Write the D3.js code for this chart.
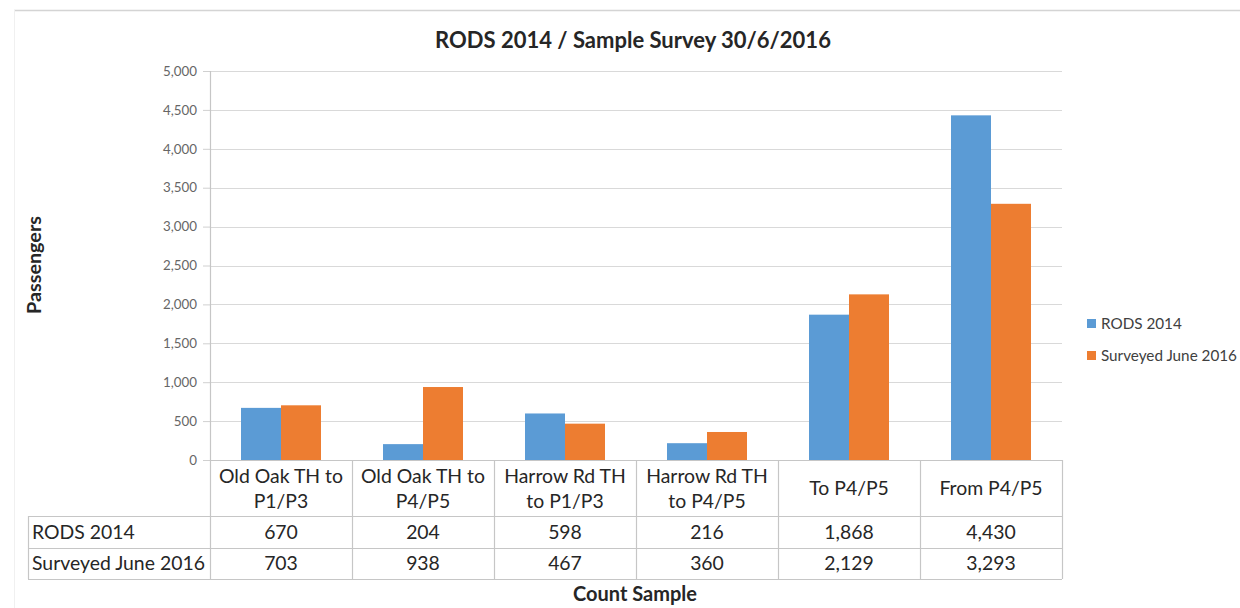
<!DOCTYPE html>
<html>
<head>
<meta charset="utf-8">
<script src="https://cdn.jsdelivr.net/npm/d3@7"></script>
<style>
  html, body { margin: 0; padding: 0; background: #fff; }
  svg { display: block; font-family: Lato, "Open Sans", sans-serif; }
</style>
</head>
<body>
<svg id="chart" width="1240" height="608"></svg>
<script>
// ---- data ----
const categories = [
  ["Old Oak TH to", "P1/P3"],
  ["Old Oak TH to", "P4/P5"],
  ["Harrow Rd TH", "to P1/P3"],
  ["Harrow Rd TH", "to P4/P5"],
  ["To P4/P5"],
  ["From P4/P5"]
];
const seriesNames = ["RODS 2014", "Surveyed June 2016"];
const rods2014 = [670, 204, 598, 216, 1868, 4430];
const surveyed2016 = [703, 938, 467, 360, 2129, 3293];
const yTicks = [0, 500, 1000, 1500, 2000, 2500, 3000, 3500, 4000, 4500, 5000];
const title = "RODS 2014 / Sample Survey 30/6/2016";
const yTitle = "Passengers";
const xTitle = "Count Sample";
const colors = ["#5B9BD5", "#ED7D31"];

const series = [rods2014, surveyed2016];

// ---- layout ----
const svg = d3.select("#chart");
const plotLeft = 210, plotRight = 1062, plotTop = 71, plotBottom = 460;
const row1 = 516, row2 = 548, row3 = 579, tableLeft = 28;

function fit(sel, target, base) {
  sel.style("font-size", base + "px");
  const w = sel.node().getComputedTextLength();
  sel.style("font-size", (base * target / w).toFixed(2) + "px");
  return base * target / w;
}

svg.append("rect").attr("width", 1240).attr("height", 608).attr("fill", "#fff");
// frame
svg.append("line").attr("x1", 14).attr("x2", 1240).attr("y1", 10.5).attr("y2", 10.5)
  .attr("stroke", "#d4d4d4").attr("stroke-width", 1.5);
svg.append("line").attr("x1", 14.5).attr("x2", 14.5).attr("y1", 10).attr("y2", 608)
  .attr("stroke", "#f0f0f0").attr("stroke-width", 1);

const x0 = d3.scaleBand().domain(d3.range(categories.length)).range([plotLeft, plotRight]).padding(0);
const x1 = d3.scaleBand().domain(d3.range(series.length)).range([0, x0.bandwidth()])
  .paddingInner(0).paddingOuter(0.775);
const y = d3.scaleLinear().domain([0, 5000]).range([plotBottom, plotTop]);

// gridlines
svg.append("g").selectAll("line").data(yTicks.filter(d => d > 0)).join("line")
  .attr("x1", plotLeft).attr("x2", plotRight)
  .attr("y1", d => Math.round(y(d)) + 0.5).attr("y2", d => Math.round(y(d)) + 0.5)
  .attr("stroke", "#d9d9d9").attr("stroke-width", 1.2);

// y axis
const yAxis = d3.axisLeft(y).tickValues(yTicks).tickSize(7).tickPadding(6)
  .tickFormat(d3.format(","));
const yg = svg.append("g").attr("transform", `translate(${plotLeft},0)`).call(yAxis);
yg.select(".domain").remove();
yg.selectAll(".tick line").attr("stroke", "#d0d0d0");
yg.selectAll(".tick text").attr("fill", "#666666").style("font-family", "Lato, sans-serif");
let tsz = null;
yg.selectAll(".tick text").each(function(d) {
  if (d === 3500) tsz = fit(d3.select(this), 34, 12);
});
yg.selectAll(".tick text").style("font-size", tsz + "px");

// bars
const g = svg.append("g");
categories.forEach((c, i) => {
  series.forEach((s, j) => {
    g.append("rect")
      .attr("x", x0(i) + x1(j))
      .attr("y", y(s[i]))
      .attr("width", x1.bandwidth())
      .attr("height", y(0) - y(s[i]))
      .attr("fill", colors[j]);
  });
});

// data table lines
const tl = svg.append("g").attr("stroke", "#c6c6c6").attr("stroke-width", 1.2);
tl.append("line").attr("x1", plotLeft).attr("x2", plotRight).attr("y1", plotBottom + 0.5).attr("y2", plotBottom + 0.5);
[row1, row2, row3].forEach(r => tl.append("line").attr("x1", tableLeft).attr("x2", plotRight)
  .attr("y1", r + 0.5).attr("y2", r + 0.5));
tl.append("line").attr("x1", tableLeft + 0.5).attr("x2", tableLeft + 0.5).attr("y1", row1).attr("y2", row3);
tl.append("line").attr("x1", plotLeft + 0.5).attr("x2", plotLeft + 0.5).attr("y1", plotTop).attr("y2", row3);
d3.range(1, categories.length + 1).forEach(i => {
  const xx = (i < categories.length ? x0(i) : plotRight) + 0.5;
  tl.append("line").attr("x1", xx).attr("x2", xx).attr("y1", plotBottom).attr("y2", row3);
});

// table text
const tt = svg.append("g").attr("fill", "#262626");
const rh2 = tt.append("text").attr("x", tableLeft + 4).attr("y", row3 - 9).text(seriesNames[1]);
const tableSize = fit(rh2, 173, 16);
tt.append("text").attr("x", tableLeft + 4).attr("y", row2 - 9).text(seriesNames[0]).style("font-size", tableSize + "px");
const fmt = d3.format(",");
categories.forEach((c, i) => {
  const cx = x0(i) + x0.bandwidth() / 2;
  if (c.length === 2) {
    c.forEach((line, k) => tt.append("text").attr("x", cx).attr("y", k === 0 ? 483 : 508)
      .attr("text-anchor", "middle").style("font-size", tableSize + "px").text(line));
  } else {
    tt.append("text").attr("x", cx).attr("y", 495).attr("text-anchor", "middle")
      .style("font-size", tableSize + "px").text(c[0]);
  }
  series.forEach((s, j) => {
    tt.append("text").attr("x", cx).attr("y", (j === 0 ? row2 : row3) - 9)
      .attr("text-anchor", "middle").style("font-size", tableSize + "px").text(fmt(s[i]));
  });
});

// titles
const tEl = svg.append("text").attr("x", 633).attr("y", 48).attr("text-anchor", "middle")
  .attr("font-weight", "bold").attr("fill", "#262626").text(title);
fit(tEl, 396, 20);
const yt = svg.append("text").attr("transform", "translate(41,265) rotate(-90)")
  .attr("text-anchor", "middle").attr("font-weight", "bold").attr("fill", "#262626").text(yTitle);
fit(yt, 98, 14);
const xt = svg.append("text").attr("x", 635).attr("y", 601).attr("text-anchor", "middle")
  .attr("font-weight", "bold").attr("fill", "#262626").text(xTitle);
fit(xt, 124, 15);

// legend (sized so the longest entry still fits inside the canvas)
const lg = svg.append("g");
const legendTexts = [];
seriesNames.forEach((n, j) => {
  const cy = 324 + j * 32;
  lg.append("rect").attr("x", 1087).attr("y", cy - 5).attr("width", 9).attr("height", 9).attr("fill", colors[j]);
  legendTexts.push(lg.append("text").attr("x", 1101).attr("y", cy + 5).attr("fill", "#404040").text(n));
});
const lsz = fit(legendTexts[1], 136, 13);
legendTexts[0].style("font-size", lsz + "px");
</script>
</body>
</html>
